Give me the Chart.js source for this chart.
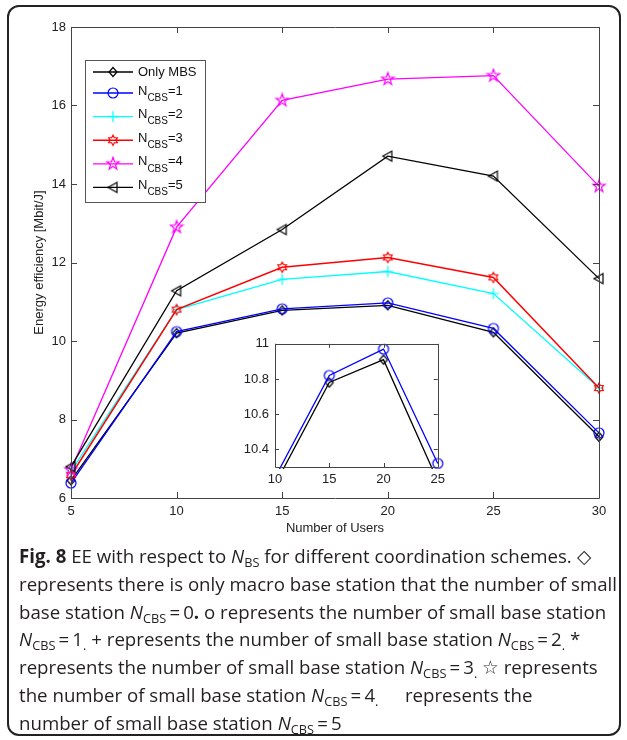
<!DOCTYPE html>
<html>
<head>
<meta charset="utf-8">
<script src="https://cdn.jsdelivr.net/npm/chart.js@4.4.0/dist/chart.umd.min.js"></script>
<style>
  html, body { margin: 0; padding: 0; background: #fff; }
  body { width: 627px; height: 740px; position: relative; overflow: hidden; }
  #frame { position: absolute; left: 7px; top: 5px; width: 610px; height: 727px; border: 2px solid #222; border-radius: 12px; }
  #main { position: absolute; left: 0; top: 0; }
  #inset { position: absolute; left: 225px; top: 330px; }
  #caption { position: absolute; left: 19px; top: 543px; font-family: 'Open Sans', sans-serif; font-size: 19px;
             line-height: 27.8px; color: #231f20; white-space: nowrap; transform-origin: 0 0; }
  #caption span.l { display: inline-block; }
  #caption sub { font-size: 13px; vertical-align: -4px; line-height: 0; }
  #caption .gap { display: inline-block; width: 22px; }
</style>
</head>
<body>
<div id="frame"></div>
<canvas id="main" width="627" height="545"></canvas>
<canvas id="inset" width="225" height="170"></canvas>
<div id="caption">
  <div><span class="l"><b>Fig. 8</b> EE with respect to <i>N</i><sub>BS</sub> for different coordination schemes. &#9671;</span></div>
  <div><span class="l" id="refLine">represents there is only macro base station that the number of small</span></div>
  <div><span class="l">base station <i>N</i><sub>CBS</sub>&#8201;=&#8201;0<b>.</b> o represents the number of small base station</span></div>
  <div><span class="l"><i>N</i><sub>CBS</sub>&#8201;=&#8201;1<sub>.</sub> + represents the number of small base station <i>N</i><sub>CBS</sub>&#8201;=&#8201;2<sub>.</sub> *</span></div>
  <div><span class="l">represents the number of small base station <i>N</i><sub>CBS</sub>&#8201;=&#8201;3<sub>.</sub> &#9734; represents</span></div>
  <div><span class="l">the number of small base station <i>N</i><sub>CBS</sub>&#8201;=&#8201;4<sub>.</sub><span class="gap"></span> represents the</span></div>
  <div><span class="l">number of small base station <i>N</i><sub>CBS</sub>&#8201;=&#8201;5</span></div>
</div>
<script>
// data
var users = [5, 10, 15, 20, 25, 30];
var onlyMBS = [6.45, 10.20, 10.78, 10.91, 10.22, 7.56];
var ncbs1 = [6.38, 10.24, 10.82, 10.97, 10.32, 7.66];
var ncbs2 = [6.68, 10.80, 11.57, 11.77, 11.21, 8.80];
var ncbs3 = [6.58, 10.80, 11.88, 12.13, 11.62, 8.80];
var ncbs4 = [6.72, 12.90, 16.13, 16.67, 16.76, 13.94];
var ncbs5 = [6.80, 11.28, 12.84, 14.71, 14.20, 11.59];

var seriesNames = ['Only MBS', 'N_CBS=1', 'N_CBS=2', 'N_CBS=3', 'N_CBS=4', 'N_CBS=5'];
var seriesColors = ['#000000', '#0000ff', '#00ffff', '#ff0000', '#ff00ff', '#000000'];
var seriesMarkers = ['diamond', 'circle', 'plus', 'hexagram', 'pentagram', 'triangleLeft'];
var seriesValues = [onlyMBS, ncbs1, ncbs2, ncbs3, ncbs4, ncbs5];

var xTicks = [5, 10, 15, 20, 25, 30];
var yTicks = [6, 8, 10, 12, 14, 16, 18];
var insetXTicks = [10, 15, 20, 25];
var insetYTicks = [10.4, 10.6, 10.8, 11];

Chart.defaults.font.family = "'Liberation Sans', Arial, sans-serif";
Chart.defaults.font.size = 13;
Chart.defaults.color = '#222';

/* marker shapes, drawn into small canvases and used as pointStyle */
function starPath(ctx, cx, cy, n, ro, ri) {
    for (var k = 0; k < n * 2; k++) {
        var r = k % 2 == 0 ? ro : ri;
        var a = -Math.PI / 2 + k * Math.PI / n;
        var px = cx + r * Math.cos(a), py = cy + r * Math.sin(a);
        if (k == 0) ctx.moveTo(px, py); else ctx.lineTo(px, py);
    }
    ctx.closePath();
}
function makeMarker(kind, color) {
    var c = document.createElement('canvas');
    c.width = 16; c.height = 16;
    var ctx = c.getContext('2d');
    var cx = 8, cy = 8;
    ctx.strokeStyle = color;
    ctx.lineWidth = 1.2;
    ctx.beginPath();
    if (kind == 'circle') {
        ctx.arc(cx, cy, 5, 0, Math.PI * 2);
    } else if (kind == 'diamond') {
        ctx.moveTo(cx, cy - 4.5); ctx.lineTo(cx + 4, cy); ctx.lineTo(cx, cy + 4.5); ctx.lineTo(cx - 4, cy); ctx.closePath();
    } else if (kind == 'plus') {
        ctx.moveTo(cx - 5.5, cy); ctx.lineTo(cx + 5.5, cy); ctx.moveTo(cx, cy - 5.5); ctx.lineTo(cx, cy + 5.5);
    } else if (kind == 'triangleLeft') {
        ctx.moveTo(cx - 5, cy); ctx.lineTo(cx + 4, cy - 5); ctx.lineTo(cx + 4, cy + 5); ctx.closePath();
    } else if (kind == 'hexagram') {
        starPath(ctx, cx, cy, 6, 5, 2.9);
    } else if (kind == 'pentagram') {
        starPath(ctx, cx, cy, 5, 6.5, 2.6);
    }
    ctx.stroke();
    return c;
}
var markerImgs = seriesMarkers.map(function (m, i) { return makeMarker(m, seriesColors[i]); });

function makeDataset(i, clip) {
    return {
        label: seriesNames[i],
        data: users.map(function (u, k) { return { x: u, y: seriesValues[i][k] }; }),
        borderColor: seriesColors[i],
        backgroundColor: seriesColors[i],
        borderWidth: i == 3 ? 1.5 : 1.3,
        pointStyle: markerImgs[i],
        pointRadius: 5,
        pointHoverRadius: 5,
        fill: false,
        tension: 0,
        order: 6 - i,
        clip: clip
    };
}

/* box with inward ticks on all four sides, like the matlab axes */
var boxPlugin = {
    id: 'boxAxes',
    afterDatasetsDraw: function (chart, args, opts) {
        var ctx = chart.ctx, a = chart.chartArea;
        var xs = chart.scales.x, ys = chart.scales.y;
        var len = opts.len || 5;
        ctx.save();
        ctx.strokeStyle = '#444';
        ctx.lineWidth = 1;
        ctx.beginPath();
        ctx.rect(Math.round(a.left) + 0.5, Math.round(a.top) + 0.5, Math.round(a.width), Math.round(a.height));
        xs.ticks.forEach(function (t) {
            var px = Math.round(xs.getPixelForValue(t.value)) + 0.5;
            ctx.moveTo(px, a.bottom); ctx.lineTo(px, a.bottom - len);
            ctx.moveTo(px, a.top); ctx.lineTo(px, a.top + len);
        });
        ys.ticks.forEach(function (t) {
            var py = Math.round(ys.getPixelForValue(t.value)) + 0.5;
            ctx.moveTo(a.left, py); ctx.lineTo(a.left + len, py);
            ctx.moveTo(a.right, py); ctx.lineTo(a.right - len, py);
        });
        ctx.stroke();
        ctx.restore();
    }
};

/* legend with subscripts, drawn by hand */
var legendPlugin = {
    id: 'subLegend',
    afterDraw: function (chart) {
        var ctx = chart.ctx, a = chart.chartArea;
        var bx = a.left + 14, by = a.top + 33, bw = 120, bh = 142;
        ctx.save();
        ctx.fillStyle = '#fff';
        ctx.fillRect(bx, by, bw, bh);
        ctx.strokeStyle = '#555';
        ctx.lineWidth = 1;
        ctx.strokeRect(bx + 0.5, by + 0.5, bw, bh);
        seriesNames.forEach(function (name, i) {
            var ly = by + 12 + (i == 0 ? 0 : 21 + (i - 1) * 23.6);
            ctx.strokeStyle = seriesColors[i];
            ctx.lineWidth = i == 3 ? 1.5 : 1.3;
            ctx.beginPath();
            ctx.moveTo(bx + 8, ly); ctx.lineTo(bx + 48, ly);
            ctx.stroke();
            ctx.drawImage(markerImgs[i], bx + 28 - 8, ly - 8);
            ctx.fillStyle = '#111';
            ctx.textBaseline = 'middle';
            ctx.textAlign = 'left';
            var tx = bx + 53;
            var m = name.match(/^N_(\w+)(.*)$/);
            ctx.font = "13px 'Liberation Sans', Arial, sans-serif";
            if (!m) {
                ctx.fillText(name, tx, ly);
            } else {
                ctx.fillText('N', tx, ly - 2);
                tx += ctx.measureText('N').width;
                ctx.font = "10px 'Liberation Sans', Arial, sans-serif";
                ctx.fillText(m[1], tx, ly + 5);
                tx += ctx.measureText(m[1]).width;
                ctx.font = "13px 'Liberation Sans', Arial, sans-serif";
                ctx.fillText(m[2], tx, ly - 2);
            }
        });
        ctx.restore();
    }
};

var whiteArea = {
    id: 'whiteArea',
    beforeDraw: function (chart) {
        var a = chart.chartArea;
        chart.ctx.save();
        chart.ctx.fillStyle = '#fff';
        chart.ctx.fillRect(a.left, a.top, a.width, a.height);
        chart.ctx.restore();
    }
};

var mainChart = new Chart(document.getElementById('main').getContext('2d'), {
    type: 'line',
    data: { datasets: seriesNames.map(function (n, i) { return makeDataset(i, false); }) },
    options: {
        responsive: false,
        animation: false,
        events: [],
        layout: { padding: { left: 0, top: 27, right: 28, bottom: 0 }, autoPadding: false },
        plugins: { legend: { display: false }, tooltip: { enabled: false }, boxAxes: { len: 6 } },
        scales: {
            x: {
                type: 'linear', min: 5, max: 30,
                afterBuildTicks: function (s) { s.ticks = xTicks.map(function (v) { return { value: v }; }); },
                afterFit: function (s) { s.height = 47; },
                grid: { display: false, drawTicks: false },
                border: { display: false },
                ticks: { padding: 6, maxRotation: 0 },
                title: { display: true, text: 'Number of Users', padding: { top: 0, bottom: 9 } }
            },
            y: {
                type: 'linear', min: 6, max: 18,
                afterBuildTicks: function (s) { s.ticks = yTicks.map(function (v) { return { value: v }; }); },
                afterFit: function (s) { s.width = 71; },
                grid: { display: false, drawTicks: false },
                border: { display: false },
                ticks: { padding: 5 },
                title: { display: true, text: 'Energy efficiency [Mbit/J]', padding: { top: 32, bottom: 0 } }
            }
        }
    },
    plugins: [boxPlugin, legendPlugin]
});

var insetChart = new Chart(document.getElementById('inset').getContext('2d'), {
    type: 'line',
    data: { datasets: [makeDataset(0, { left: 0, top: 0, right: 8, bottom: 2 }), makeDataset(1, { left: 0, top: 0, right: 8, bottom: 2 })] },
    options: {
        responsive: false,
        animation: false,
        events: [],
        layout: { padding: { left: 0, top: 9, right: 7, bottom: 0 }, autoPadding: false },
        plugins: { legend: { display: false }, tooltip: { enabled: false }, boxAxes: { len: 4 } },
        scales: {
            x: {
                type: 'linear', min: 10, max: 25,
                afterBuildTicks: function (s) { s.ticks = insetXTicks.map(function (v) { return { value: v }; }); },
                afterFit: function (s) { s.height = 33; },
                grid: { display: false, drawTicks: false },
                border: { display: false },
                ticks: { padding: 5, maxRotation: 0 }
            },
            y: {
                type: 'linear', min: 10.3, max: 11,
                afterBuildTicks: function (s) { s.ticks = insetYTicks.map(function (v) { return { value: v }; }); },
                afterFit: function (s) { s.width = 50; },
                grid: { display: false, drawTicks: false },
                border: { display: false },
                ticks: { padding: 6, callback: function (v) { return String(Math.round(v * 10) / 10); } }
            }
        }
    },
    plugins: [whiteArea, boxPlugin]
});

/* squeeze the caption so the full-width line spans the box like the original */
var ref = document.getElementById('refLine');
var sx = 598 / ref.getBoundingClientRect().width;
document.getElementById('caption').style.transform = 'scaleX(' + sx + ')';
</script>
</body>
</html>
